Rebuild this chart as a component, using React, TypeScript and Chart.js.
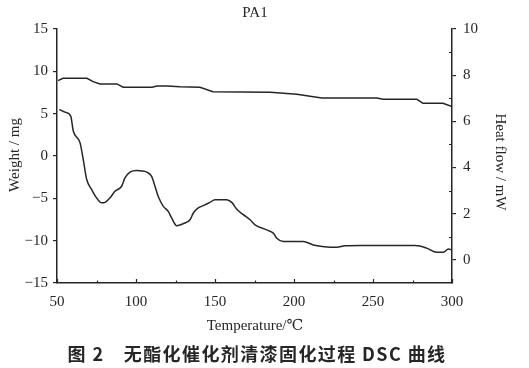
import React, { useEffect, useRef } from "react";
import { Chart, registerables } from "chart.js";

Chart.register(...registerables);

// ---- data ----
const chartTitle = "PA1";
const xTitle = "Temperature/℃";
const yLeftTitle = "Weight / mg";
const yRightTitle = "Heat flow / mW";
const caption = "图 2　无酯化催化剂清漆固化过程 DSC 曲线";

const xTicks = [50, 100, 150, 200, 250, 300];
const xMinorTicks = [75, 125, 175, 225, 275];
const leftTicks = [-15, -10, -5, 0, 5, 10, 15];
const rightTicks = [0, 2, 4, 6, 8, 10];
const rightMinorTicks = [1, 3, 5, 7, 9];

// upper curve (left axis, mg)
const weightTemp = [50.6, 53.8, 69.0, 72.8, 77.2, 88.0, 91.8, 110.1, 113.3, 119.6, 127.8, 140.5, 148.7, 184.8, 201.9, 210.1, 217.7, 252.5, 256.3, 277.8, 281.6, 294.3, 300];
const weightVal = [8.9, 9.18, 9.18, 8.78, 8.51, 8.51, 8.12, 8.12, 8.27, 8.27, 8.19, 8.12, 7.6, 7.53, 7.29, 7.05, 6.85, 6.85, 6.7, 6.7, 6.23, 6.23, 5.83];

// lower curve (right axis, mW)
const heatTemp = [51.5, 55.1, 58.7, 60.3, 64.6, 66.6, 68.8, 72.0, 75.1, 78.3, 80.4, 83.5, 86.7, 90.9, 93.0, 96.2, 100.4, 106.8, 109.9, 112.0, 114.1, 117.3, 120.4, 122.6, 125.8, 129.9, 134.2, 136.3, 139.4, 142.6, 146.8, 150.0, 157.4, 160.6, 163.7, 167.9, 172.2, 175.3, 182.7, 186.9, 189.1, 193.2, 205.9, 212.2, 227.0, 232.3, 241.8, 276.6, 284.0, 290.3, 294.5, 297.7, 300];
const heatVal = [6.52, 6.4, 6.23, 5.58, 5.07, 4.35, 3.48, 3.04, 2.68, 2.47, 2.49, 2.68, 2.97, 3.19, 3.55, 3.8, 3.87, 3.8, 3.62, 3.19, 2.75, 2.32, 2.1, 1.81, 1.48, 1.57, 1.74, 2.03, 2.25, 2.35, 2.49, 2.61, 2.61, 2.49, 2.2, 1.96, 1.74, 1.52, 1.3, 1.16, 0.94, 0.8, 0.8, 0.65, 0.55, 0.61, 0.62, 0.62, 0.51, 0.33, 0.33, 0.47, 0.43];

const INK = "#262626";
const SERIF = "'Liberation Serif', 'DejaVu Serif', serif";

const decorPlugin = {
  id: "decor",
  afterDraw(chart: any) {
    const { ctx, chartArea, scales } = chart;
    const x = scales.x;
    const yr = scales.yR;
    ctx.save();
    ctx.strokeStyle = INK;
    ctx.lineWidth = 1.2;
    ctx.beginPath();
    // bottom axis: inward ticks
    for (const v of xTicks) {
      const px = Math.round(x.getPixelForValue(v)) + 0.5;
      ctx.moveTo(px, chartArea.bottom);
      ctx.lineTo(px, chartArea.bottom - 4);
    }
    for (const v of xMinorTicks) {
      const px = Math.round(x.getPixelForValue(v)) + 0.5;
      ctx.moveTo(px, chartArea.bottom);
      ctx.lineTo(px, chartArea.bottom - 2.5);
    }
    // right axis: inward minor ticks
    for (const v of rightMinorTicks) {
      const py = Math.round(yr.getPixelForValue(v)) + 0.5;
      ctx.moveTo(chartArea.right, py);
      ctx.lineTo(chartArea.right - 3, py);
    }
    ctx.stroke();

    ctx.fillStyle = INK;
    ctx.font = `15px ${SERIF}`;
    ctx.textAlign = "center";
    ctx.textBaseline = "middle";
    ctx.fillText(chartTitle, 255, 13);
    ctx.fillText(xTitle, 255, 326);

    ctx.save();
    ctx.translate(15, 155);
    ctx.rotate(-Math.PI / 2);
    ctx.fillText(yLeftTitle, 0, 0);
    ctx.restore();

    ctx.save();
    ctx.translate(500, 162);
    ctx.rotate(Math.PI / 2);
    ctx.fillText(yRightTitle, 0, 0);
    ctx.restore();

    ctx.font = `bold 18px 'Noto Sans CJK SC', sans-serif`;
    (ctx as any).letterSpacing = "1.4px";
    ctx.fillText(caption, 257, 354);
    ctx.restore();
  },
};

const minusFmt = (v: any) => String(v).replace("-", "−");

export default function App() {
  const ref = useRef<HTMLCanvasElement | null>(null);

  useEffect(() => {
    if (!ref.current) return;
    const weightData = weightTemp.map((t, i) => ({ x: t, y: weightVal[i] }));
    const heatData = heatTemp.map((t, i) => ({ x: t, y: heatVal[i] }));
    const tickFont = { family: SERIF, size: 15 };

    const chart = new Chart(ref.current, {
      type: "line",
      data: {
        datasets: [
          {
            label: "Weight",
            data: weightData,
            yAxisID: "yL",
            borderColor: INK,
            borderWidth: 1.5,
            pointRadius: 0,
            tension: 0,
          },
          {
            label: "Heat flow",
            data: heatData,
            yAxisID: "yR",
            borderColor: INK,
            borderWidth: 1.5,
            pointRadius: 0,
            cubicInterpolationMode: "monotone",
          },
        ],
      },
      options: {
        responsive: false,
        animation: false,
        layout: { padding: { top: 29, left: 0, right: 0, bottom: 0 } },
        plugins: { legend: { display: false }, tooltip: { enabled: false } },
        scales: {
          x: {
            type: "linear",
            min: 50,
            max: 300,
            afterBuildTicks: (s: any) => { s.ticks = xTicks.map((v) => ({ value: v })); },
            afterFit: (s: any) => { s.height = 85; },
            grid: { display: true, drawOnChartArea: false, drawTicks: false },
            border: { display: true, color: INK, width: 1.5 },
            ticks: { font: tickFont, color: INK, padding: 10, maxRotation: 0 },
          },
          yL: {
            type: "linear",
            position: "left",
            min: -15,
            max: 15,
            afterBuildTicks: (s: any) => { s.ticks = leftTicks.map((v) => ({ value: v })); },
            afterFit: (s: any) => { s.width = 57; },
            grid: { display: true, drawOnChartArea: false, drawTicks: true, tickLength: 4, color: INK, lineWidth: 1.2 },
            border: { display: true, color: INK, width: 1.5 },
            ticks: { font: tickFont, color: INK, padding: 5, callback: minusFmt },
          },
          yR: {
            type: "linear",
            position: "right",
            min: -1,
            max: 10,
            afterBuildTicks: (s: any) => { s.ticks = rightTicks.map((v) => ({ value: v })); },
            afterFit: (s: any) => { s.width = 77; },
            grid: { display: true, drawOnChartArea: false, drawTicks: true, tickLength: 4, color: INK, lineWidth: 1.2 },
            border: { display: true, color: INK, width: 1.5 },
            ticks: { font: tickFont, color: INK, padding: 7, callback: minusFmt },
          },
        },
      },
      plugins: [decorPlugin],
    } as any);
    return () => chart.destroy();
  }, []);

  return (
    <div style={{ position: "absolute", left: 0, top: 0, width: 529, height: 368, background: "#fff" }}>
      <canvas ref={ref} width={529} height={368} style={{ display: "block" }} />
    </div>
  );
}
